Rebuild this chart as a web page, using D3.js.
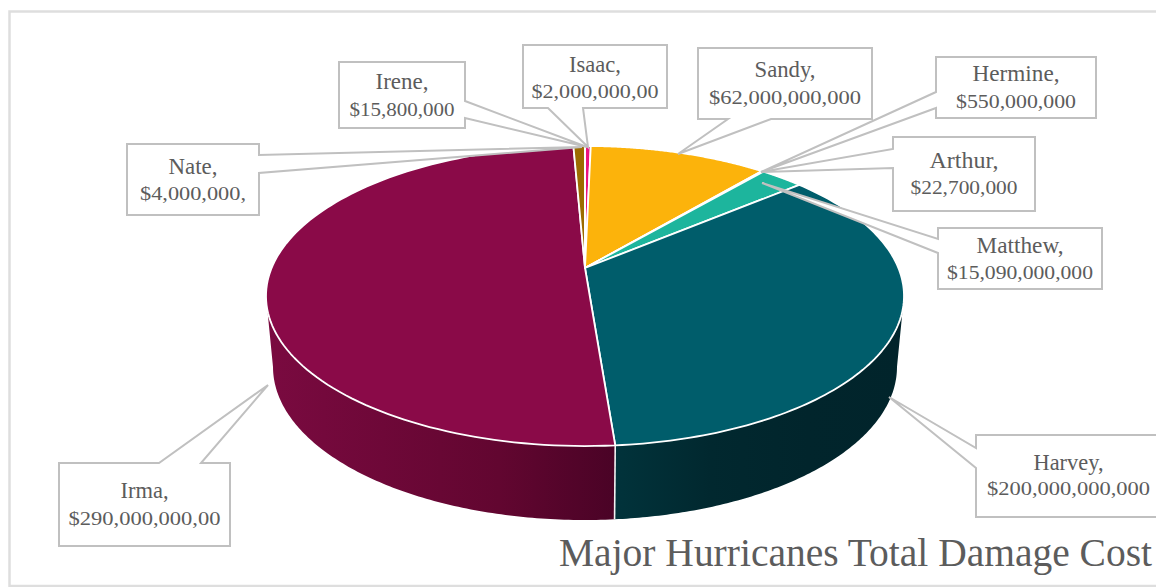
<!DOCTYPE html>
<html>
<head>
<meta charset="utf-8">
<script src="https://cdn.jsdelivr.net/npm/d3@7"></script>
<style>
html,body{margin:0;padding:0;background:#fff;overflow:hidden}
svg{display:block}
text{font-family:"Liberation Serif",serif;fill:#5c5c5c}
</style>
</head>
<body>
<svg id="c" width="1156" height="587"></svg>
<script>
const categories = ["Isaac","Sandy","Hermine","Arthur","Matthew","Harvey","Irma","Nate","Irene"];
const damageValues = [2000000000,62000000000,550000000,22700000,15090000000,200000000000,290000000000,4000000000,15800000];
const valueLabels = ["$2,000,000,00","$62,000,000,000","$550,000,000","$22,700,000","$15,090,000,000","$200,000,000,000","$290,000,000,00","$4,000,000,","$15,800,000"];
const sliceColors = ["#ec1380","#fcb30b","#e9e2c8","#c9c9c9","#1db59d","#005d6b","#8a0a48","#9c6b00","#d0d0d0"];
const wallStops = {
  Harvey: ["#01333b","#01282f","#01252c","#01242b"],
  Irma: ["#7a0a40","#6e0838","#620630","#4a0326"]
};
const chartTitle = "Major Hurricanes Total Damage Cost";

// callout geometry: box, pointer base on one side, tip, text baselines and widths
const callouts = [
 {n:"Isaac",x0:523,x1:667,y0:45,y1:108,side:"b",a:548,b:583,tip:[588,147],ny:72,vy:98,nw:52,vw:127},
 {n:"Sandy",x0:698,x1:872,y0:48,y1:119,side:"b",a:728,b:771,tip:[678,154],ny:77,vy:104,nw:61,vw:152},
 {n:"Hermine",x0:936,x1:1096,y0:57,y1:118,side:"l",a:92,b:108,tip:[761,172],ny:81,vy:108,nw:87,vw:120},
 {n:"Arthur",x0:893,x1:1035,y0:137,y1:211,side:"l",a:149,b:168,tip:[761,172],ny:168,vy:194,nw:69,vw:107},
 {n:"Matthew",x0:938,x1:1102,y0:228,y1:289,side:"l",a:239,b:253,tip:[762,183],ny:253,vy:279,nw:87,vw:146},
 {n:"Harvey",x0:976,x1:1162,y0:435,y1:517,side:"l",a:448,b:468,tip:[889,397],ny:470,vy:495,nw:70,vw:163,cx:1068.5},
 {n:"Irma",x0:59,x1:230,y0:463,y1:546,side:"t",a:159,b:201,tip:[268,385],ny:498,vy:525,nw:48,vw:152},
 {n:"Nate",x0:127,x1:259,y0:144,y1:215,side:"r",a:155,b:173,tip:[582,147],ny:174,vy:200,nw:49,vw:106},
 {n:"Irene",x0:339,x1:465,y0:62,y1:128,side:"r",a:101,b:118,tip:[587,147],ny:89,vy:116,nw:53,vw:105}
];

const svg = d3.select("#c");
const cx = 585;
const K = 0.1867;               // perspective foreshortening of the disc

// top and bottom rims of the disc, as perspective projections of a circle
function rim(apexY, R, H){
  const sx = d3.scaleLinear().domain([-1,1]).range([cx-R,cx+R]);
  const sy = d3.scaleLinear().domain([-1,1]).range([apexY+H,apexY-H]);
  return t => {
    const u = Math.sin(t), v = Math.cos(t), w = 1+K*v;
    return [sx(u/w), sy(v/w)];
  };
}
const topRim = rim(268,313.4,144.8);
const botRim = rim(338.4,306.5,147.7);

const slices = d3.pie().sort(null).value(d=>d.value)(
  categories.map((c,i)=>({name:c,value:damageValues[i],color:sliceColors[i],label:valueLabels[i]}))
);
const byName = Object.fromEntries(slices.map(s=>[s.data.name,s]));

const line = d3.line();
const arcPts = (f,a,b) => d3.range(0,121).map(i=>f(a+(b-a)*i/120));

// frame
svg.append("path")
  .attr("d","M1160,11.5H9.5V586H1160")
  .attr("fill","none").attr("stroke","#dedede").attr("stroke-width",2.5);

// side walls
const defs = svg.append("defs");
const tangent = Math.PI/2+Math.asin(K);
const wallRange = {
  Harvey:[tangent, byName.Harvey.endAngle],
  Irma:[byName.Irma.startAngle, 2*Math.PI-tangent]
};
["Harvey","Irma"].forEach(name=>{
  const [a,b] = wallRange[name];
  const xs = [topRim(a)[0],botRim(a)[0],topRim(b)[0],botRim(b)[0]];
  const g = defs.append("linearGradient").attr("id","wall"+name)
    .attr("gradientUnits","userSpaceOnUse")
    .attr("x1",d3.min(xs)).attr("x2",d3.max(xs)).attr("y1",0).attr("y2",0);
  const st = name==="Harvey"?wallStops.Harvey:wallStops.Irma;
  st.forEach((c,i)=>g.append("stop").attr("offset",i/(st.length-1)).attr("stop-color",c));
  const pts = arcPts(topRim,a,b).concat(arcPts(botRim,a,b).reverse());
  svg.append("path").attr("d",line(pts)+"Z").attr("fill",`url(#wall${name})`);
});
// edge between the two walls
{
  const t = byName.Harvey.endAngle;
  svg.append("path").attr("d",line([topRim(t),botRim(t)]))
    .attr("stroke","#f2f2f2").attr("stroke-width",1.6).attr("fill","none");
}

// top faces
svg.selectAll("path.slice").data(slices).join("path")
  .attr("class","slice")
  .attr("d",d=>line([[cx,268],...arcPts(topRim,d.startAngle,d.endAngle)])+"Z")
  .attr("fill",d=>d.data.color)
  .attr("stroke","#fff").attr("stroke-width",1.8).attr("stroke-linejoin","round");

// callouts
function calloutPath(c){
  const {x0,x1,y0,y1,side,a,b,tip} = c;
  const p = [[x0,y0]];
  if(side==="t") p.push([a,y0],tip,[b,y0]);
  p.push([x1,y0]);
  if(side==="r") p.push([x1,a],tip,[x1,b]);
  p.push([x1,y1]);
  if(side==="b") p.push([b,y1],tip,[a,y1]);
  p.push([x0,y1]);
  if(side==="l") p.push([x0,b],tip,[x0,a]);
  return line(p)+"Z";
}
const g = svg.selectAll("g.callout").data(callouts).join("g").attr("class","callout");
g.append("path").attr("d",calloutPath).attr("fill","#fff")
  .attr("stroke","#c0c0c0").attr("stroke-width",2).attr("stroke-linejoin","miter");
g.append("text").attr("x",c=>c.cx||(c.x0+c.x1)/2).attr("y",c=>c.ny)
  .attr("text-anchor","middle").attr("font-size",22.5)
  .attr("textLength",c=>c.nw).attr("lengthAdjust","spacingAndGlyphs")
  .text(c=>c.n+",");
g.append("text").attr("x",c=>c.cx||(c.x0+c.x1)/2).attr("y",c=>c.vy)
  .attr("text-anchor","middle").attr("font-size",19)
  .attr("textLength",c=>c.vw).attr("lengthAdjust","spacingAndGlyphs")
  .text(c=>byName[c.n].data.label);

svg.append("text").attr("x",559).attr("y",565.5).attr("font-size",39)
  .attr("textLength",593).attr("lengthAdjust","spacingAndGlyphs").text(chartTitle);
</script>
</body>
</html>
